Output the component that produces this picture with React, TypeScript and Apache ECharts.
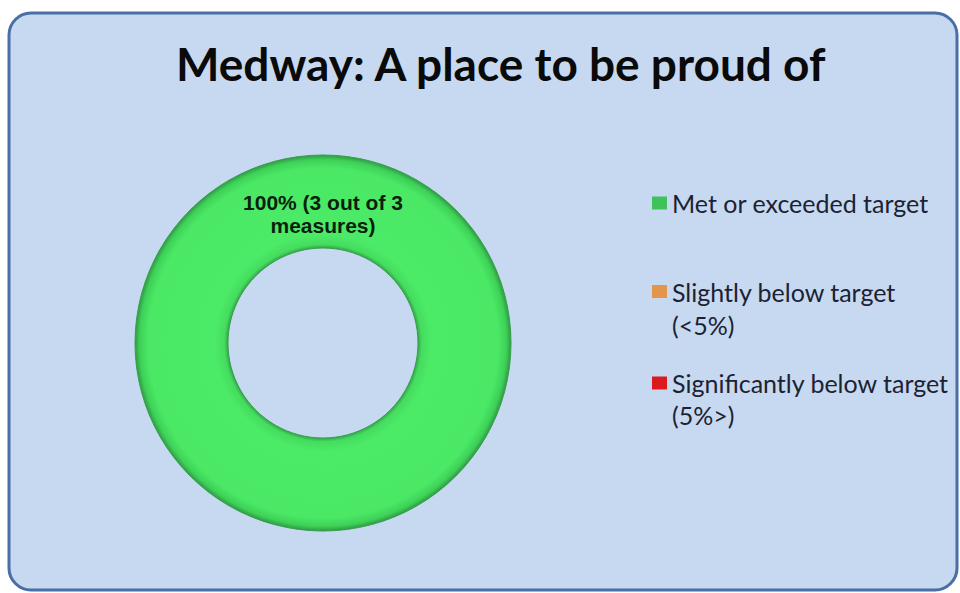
import React, { useEffect, useRef } from "react";
import * as echarts from "echarts";

const titleText = "Medway: A place to be proud of";
const categories = [
  "Met or exceeded target",
  "Slightly below target\n(<5%)",
  "Significantly below target\n(5%>)",
];
const measureCounts = [3, 0, 0];
const legendColors = ["#3fc25c", "#e3964a", "#dc1a1e"];

export default function App() {
  const ref = useRef<HTMLDivElement>(null);

  useEffect(() => {
    if (!ref.current) return;
    const chart = echarts.init(ref.current, null, { renderer: "svg" });
    const total = measureCounts.reduce((a, b) => a + b, 0);

    const ringColor = {
      type: "radial",
      x: 0.5,
      y: 0.5,
      r: 0.5,
      colorStops: [
        { offset: 0.5, color: "#2e9944" },
        { offset: 0.525, color: "#45dc5f" },
        { offset: 0.58, color: "#4ceb67" },
        { offset: 0.93, color: "#4ae865" },
        { offset: 0.975, color: "#3ed158" },
        { offset: 1, color: "#2f9a45" },
      ],
    };
    const sliceColors = [ringColor, legendColors[1], legendColors[2]];

    const iconPath = (h: number, top: number) =>
      `path://M0,0L0.01,0Z M0,${top}L15,${top}L15,${top + 13}L0,${top + 13}Z M0,${h}L0.01,${h}Z`;

    const legendTops = [187, 275, 367];
    const legendHeights = [32, 66, 64];
    const legendIconTops = [9.5, 10, 9.5];

    const legends = categories.map((name, i) => ({
      orient: "vertical",
      left: 652,
      top: legendTops[i],
      padding: 0,
      itemWidth: 15,
      itemHeight: legendHeights[i],
      selectedMode: false,
      textStyle: {
        fontFamily: "Lato",
        fontSize: 25,
        color: "#1c2233",
        lineHeight: i === 1 ? 33 : 32,
      },
      data: [
        {
          name,
          icon: iconPath(legendHeights[i], legendIconTops[i]),
          itemStyle: { color: legendColors[i], borderWidth: 0 },
        },
      ],
    }));

    chart.setOption({
      animation: false,
      backgroundColor: "#ffffff",
      graphic: [
        {
          type: "rect",
          z: -10,
          shape: { x: 9, y: 13, width: 948, height: 577, r: 22 },
          style: { fill: "#c6d9f0", stroke: "#4a6ea6", lineWidth: 3 },
          silent: true,
        },
      ],
      title: {
        text: titleText,
        left: 176,
        top: 40,
        padding: 0,
        textStyle: {
          fontFamily: "Lato",
          fontWeight: "bold",
          fontSize: 46,
          color: "#0a0a0a",
        },
      },
      legend: legends,
      series: [
        {
          type: "pie",
          center: [323, 343],
          radius: [95, 188],
          startAngle: 270,
          silent: true,
          emphasis: { disabled: true },
          labelLine: { show: false },
          labelLayout: { dy: 15 },
          data: categories.map((name, i) => ({
            name,
            value: measureCounts[i],
            itemStyle: {
              color: sliceColors[i],
              borderColor: "#35a04a",
              borderWidth: measureCounts[i] > 0 ? 1 : 0,
            },
            label: {
              show: measureCounts[i] > 0,
              position: "inside",
              formatter: () =>
                `${Math.round((measureCounts[i] / total) * 100)}% (${measureCounts[i]} out of ${total}\nmeasures)`,
              fontFamily: "Liberation Sans, Arial, sans-serif",
              fontWeight: "bold",
              fontSize: 21,
              lineHeight: 23,
              color: "#0b1f0e",
            },
          })),
        },
      ],
    });

    return () => chart.dispose();
  }, []);

  return (
    <div
      ref={ref}
      style={{ position: "absolute", left: 0, top: 0, width: 960, height: 593 }}
    />
  );
}
